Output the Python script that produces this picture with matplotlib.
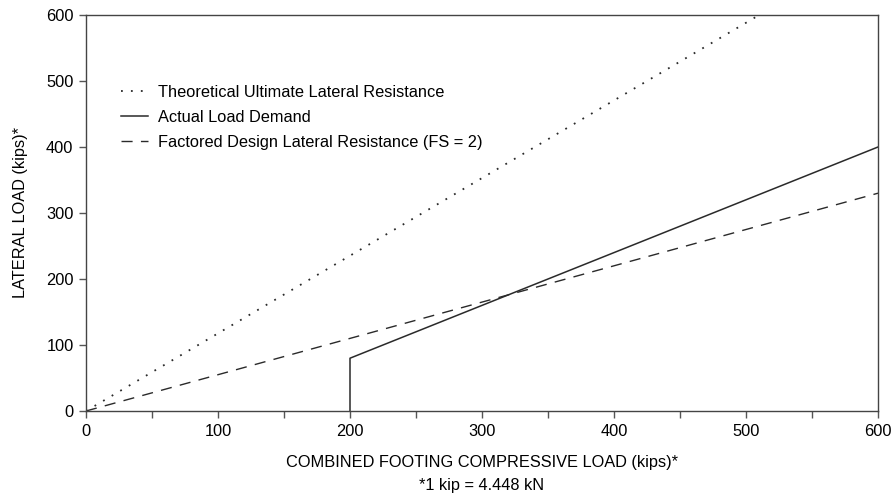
import matplotlib.pyplot as plt
from matplotlib.ticker import MultipleLocator

# lines (kips)
ultimate_x = [0, 510]
ultimate_y = [0, 600]
demand_x = [200, 200, 600]
demand_y = [0, 80, 400]
design_x = [0, 600]
design_y = [0, 330]

plt.rcParams['font.family'] = ['Liberation Sans', 'DejaVu Sans']
plt.rcParams['font.size'] = 11.8

fig = plt.figure(figsize=(8.92, 4.96), dpi=100)
ax = fig.add_axes([86 / 892, 1 - 411 / 496, 792 / 892, 396 / 496])

ink = '#2a2a2a'
ax.plot(ultimate_x, ultimate_y, color=ink, lw=1.3, linestyle=(0, (1, 4.5)),
        label='Theoretical Ultimate Lateral Resistance')
ax.plot(demand_x, demand_y, color=ink, lw=1.1, label='Actual Load Demand')
ax.plot(design_x, design_y, color=ink, lw=1.0, linestyle=(0, (8, 6)),
        label='Factored Design Lateral Resistance (FS = 2)')

ax.set_xlim(0, 600)
ax.set_ylim(0, 600)
ax.xaxis.set_major_locator(MultipleLocator(100))
ax.xaxis.set_minor_locator(MultipleLocator(50))
ax.yaxis.set_major_locator(MultipleLocator(100))
ax.tick_params(which='both', direction='out', color='#555555', width=1.0)
ax.tick_params(which='major', length=5)
ax.tick_params(which='minor', length=5)
ax.tick_params(axis='x', pad=4)
ax.tick_params(axis='y', pad=4)
for s in ax.spines.values():
    s.set_color('#444444')
    s.set_linewidth(1.0)

ax.set_ylabel('LATERAL LOAD (kips)*', labelpad=13)
ax.set_xlabel('COMBINED FOOTING COMPRESSIVE LOAD (kips)*\n*1 kip = 4.448 kN',
              labelpad=12, linespacing=1.65)

leg = ax.legend(loc='upper left', bbox_to_anchor=(0.025, 0.86), frameon=False,
                handlelength=1.7, handletextpad=0.6, labelspacing=0.6)

fig.savefig('out.png', dpi=100)
